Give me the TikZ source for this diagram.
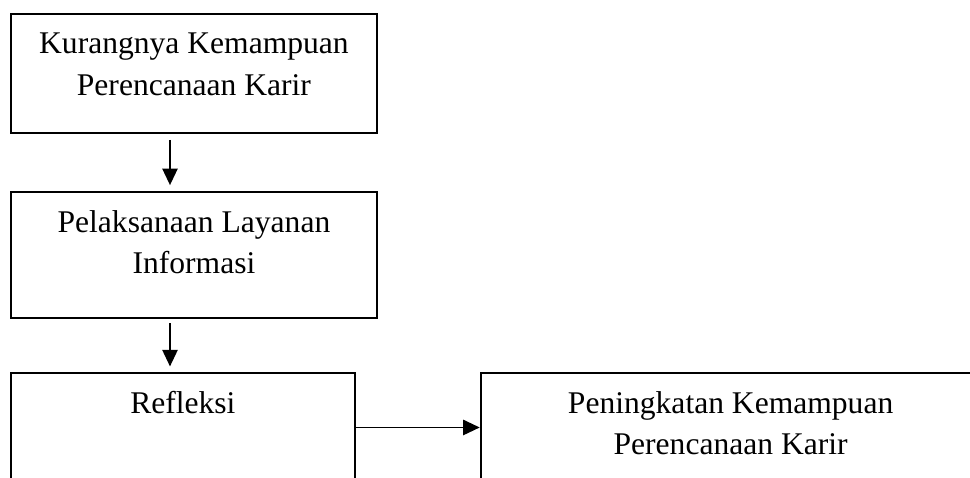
\documentclass[tikz,border=0pt]{standalone}
\usepackage{fontspec}
\setmainfont{Liberation Serif}
\usetikzlibrary{arrows.meta,positioning}
\newcommand{\boxlines}[3]{\parbox[c][#2][t]{#1}{\centering\fontsize{12pt}{15.8pt}\selectfont\rule{0pt}{15.2pt}#3}}

\begin{document}
\begin{tikzpicture}[x=0.38pt,y=-0.38pt,
    flowbox/.style={draw, line width=0.7pt, inner sep=0pt},
    flowarrow/.style={-{Triangle[length=6.3pt,width=5.8pt]}, line width=0.7pt}]
  \useasboundingbox (0,0) rectangle (970,477);
  \clip (0,0) rectangle (970,477);
  \node[flowbox, anchor=north west] (kurang) at (10,13) {\boxlines{139.1pt}{45.2pt}{Kurangnya Kemampuan\\Perencanaan Karir}};
  \node[flowbox, below=21.8pt of kurang.south west, anchor=north west] (layanan) {\boxlines{139.1pt}{47.9pt}{Pelaksanaan Layanan\\Informasi}};
  \node[flowbox, below=20.3pt of layanan.south west, anchor=north west] (refleksi) {\boxlines{130.7pt}{48pt}{Refleksi}};
  \node[flowbox, right=47.1pt of refleksi.north east, anchor=north west] (peningkatan) {\boxlines{190pt}{48pt}{Peningkatan Kemampuan\\Perencanaan Karir}};
  \draw[flowarrow, shorten <=2.3pt, shorten >=2.3pt] ([xshift=60.8pt]kurang.south west) -- ([xshift=60.8pt]layanan.north west);
  \draw[flowarrow, shorten <=1.5pt, shorten >=2.3pt] ([xshift=60.8pt]layanan.south west) -- ([xshift=60.8pt]refleksi.north west);
  \draw[flowarrow] ([yshift=-20.9pt]refleksi.north east) -- ([yshift=-20.9pt]peningkatan.north west);
\end{tikzpicture}
\end{document}
